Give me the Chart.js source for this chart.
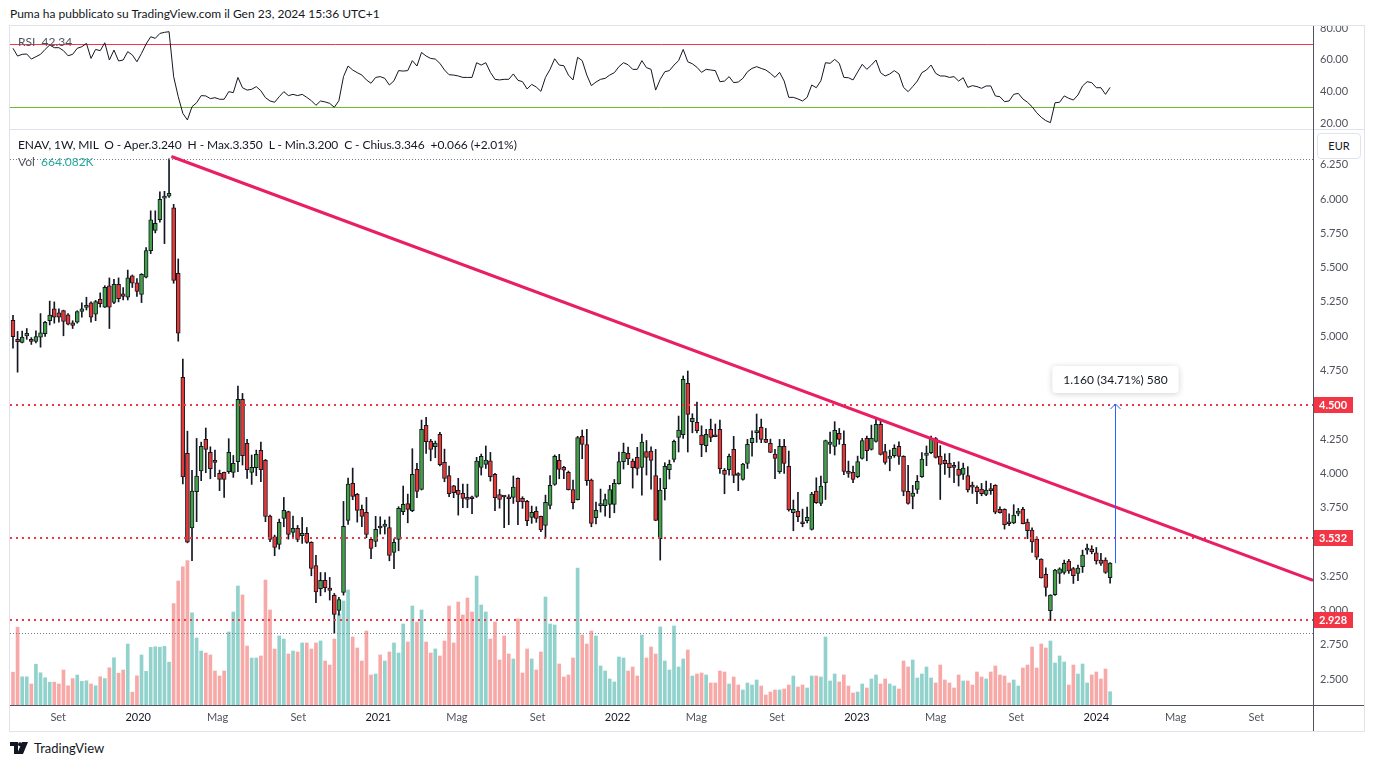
<!DOCTYPE html>
<html>
<head>
<meta charset="utf-8">
<title>ENAV 1W</title>
<script src="https://cdn.jsdelivr.net/npm/chart.js@4.4.1/dist/chart.umd.min.js"></script>
<style>
  body { margin: 0; background: #fff; font-family: Lato, 'Open Sans', sans-serif; color: #131722; }
  #page { position: relative; width: 1375px; height: 767px; overflow: hidden; }
  .abs { position: absolute; }
  #title { left: 10px; top: 6px; font-size: 12px; white-space: nowrap; }
  #frame { left: 9px; top: 25px; width: 1354px; height: 705px; border: 1px solid #e0e3eb; }
  #rsiCanvas { left: 0; top: 26px; }
  #mainCanvas { left: 0; top: 130px; }
  .hline { height: 1px; }
  .legend { font-size: 12px; white-space: nowrap; color: #131722; }
  .grey { color: #50535e; }
  #eur { left: 1317px; top: 133px; width: 42px; height: 24px; border: 1px solid #e0e3eb; border-radius: 4px;
         background: #fff; font-size: 11px; line-height: 24px; text-align: center; color: #131722; }
  #footer { left: 10px; top: 740px; font-size: 13px; display: flex; align-items: center; gap: 4px; }
</style>
</head>
<body>
<div id="page">
  <div id="title" class="abs">Puma ha pubblicato su TradingView.com il Gen 23, 2024 15:36 UTC+1</div>
  <div id="frame" class="abs"></div>
  <canvas id="rsiCanvas" class="abs" width="1375" height="103"></canvas>
  <canvas id="mainCanvas" class="abs" width="1375" height="602"></canvas>
  <div class="abs hline" style="left:10px; top:129px; width:1354px; background:#e0e3eb;"></div>
  <div class="abs hline" style="left:10px; top:705px; width:1354px; background:#50535e;"></div>
  <div class="abs" style="left:1313px; top:26px; width:1px; height:705px; background:#50535e;"></div>
  <div class="abs legend grey" style="left:18px; top:34px;">RSI&nbsp;&nbsp;<span>42.34</span></div>
  <div class="abs legend" style="left:18px; top:137px; letter-spacing:-0.08px;">ENAV, 1W, MIL&nbsp;&nbsp;O - Aper.3.240&nbsp;&nbsp;H - Max.3.350&nbsp;&nbsp;L - Min.3.200&nbsp;&nbsp;C - Chius.3.346&nbsp;&nbsp;+0.066 (+2.01%)</div>
  <div class="abs legend grey" style="left:18px; top:154px;">Vol&nbsp;&nbsp;<span style="color:#26a69a">664.082K</span></div>
  <div id="eur" class="abs">EUR</div>
  <div id="footer" class="abs">
    <svg width="20" height="12" viewBox="0 0 20 12"><path d="M0 0h8v12H4V4H0z M12 0h6l-5 12H7z" fill="#131722"/><circle cx="10" cy="2.2" r="2" fill="#131722"/></svg>
    <span>TradingView</span>
  </div>
</div>

<script>
'use strict';

// weekly candles, first week starts 2019-06-24
let firstWeek = '2019-06-24';

let opens = [
  5.115,4.977,4.954,5.003,4.977,4.962,4.993,5.019,5.113,5.199,
  5.170,5.186,5.155,5.097,5.102,5.180,5.209,5.243,5.160,5.269,
  5.212,5.368,5.246,5.378,5.308,5.284,5.441,5.389,5.305,5.430,
  5.623,5.771,5.849,6.006,6.021,5.935,5.459,4.701,4.147,3.603,
  3.866,4.019,4.248,4.153,4.090,4.000,4.007,4.012,4.007,4.085,
  4.540,4.219,4.007,4.041,4.168,4.095,3.689,3.538,3.482,3.672,
  3.721,3.570,3.599,3.546,3.563,3.497,3.329,3.159,3.220,3.164,
  3.111,3.001,3.132,3.657,3.927,3.847,3.738,3.716,3.519,3.504,
  3.608,3.614,3.606,3.424,3.519,3.721,3.781,3.728,4.029,3.883,
  4.350,4.236,4.194,4.284,4.080,3.985,3.910,3.876,3.854,3.825,
  3.820,3.832,4.044,4.066,4.092,3.993,3.845,3.833,3.820,3.825,
  3.964,3.818,3.796,3.679,3.723,3.687,3.621,3.767,3.920,4.095,
  4.044,4.007,3.883,3.808,4.270,4.211,3.951,3.677,3.764,3.764,
  3.774,3.774,3.925,4.085,4.146,4.090,4.117,4.044,4.160,4.163,
  3.985,3.524,3.888,4.027,4.102,4.262,4.282,4.656,4.377,4.372,
  4.279,4.202,4.321,4.275,4.321,4.022,4.027,4.175,3.995,3.956,
  4.073,4.224,4.297,4.335,4.248,4.219,4.141,4.012,4.197,4.051,
  3.713,3.725,3.638,3.655,3.592,3.871,3.781,3.932,4.212,4.197,
  4.292,4.212,4.007,4.007,3.976,4.109,4.255,4.175,4.233,4.357,
  4.160,4.109,4.129,4.197,4.124,3.869,3.832,3.883,3.976,4.131,
  4.151,4.253,4.126,4.095,4.075,4.054,4.032,3.993,3.985,3.905,
  3.900,3.886,3.847,3.886,3.913,3.738,3.738,3.638,3.640,3.708,
  3.738,3.645,3.587,3.521,3.376,3.264,2.999,3.116,3.271,3.278,
  3.361,3.307,3.271,3.320,3.441,3.448,3.422,3.368,3.368,3.240
];
let highs = [
  5.152,5.035,5.037,5.056,4.990,5.040,5.165,5.108,5.256,5.250,
  5.199,5.190,5.165,5.113,5.186,5.243,5.284,5.250,5.261,5.316,
  5.368,5.425,5.415,5.425,5.355,5.482,5.446,5.420,5.456,5.646,
  5.914,5.914,6.052,6.056,6.292,5.961,5.563,4.834,4.308,4.022,
  4.255,4.228,4.331,4.194,4.170,4.024,4.010,4.253,4.131,4.637,
  4.583,4.248,4.134,4.170,4.228,4.102,3.696,3.550,3.667,3.825,
  3.725,3.689,3.621,3.679,3.606,3.502,3.402,3.278,3.278,3.242,
  3.125,3.096,3.796,3.966,4.039,3.854,3.769,3.825,3.531,3.687,
  3.684,3.660,3.684,3.524,3.757,3.908,3.849,4.180,4.073,4.389,
  4.408,4.248,4.236,4.299,4.177,4.054,3.913,3.964,3.922,3.922,
  3.835,4.117,4.141,4.200,4.153,4.000,3.883,3.837,3.845,3.981,
  3.968,3.830,3.803,3.762,3.757,3.689,3.842,3.985,4.134,4.139,
  4.051,4.017,3.951,4.270,4.316,4.321,3.959,3.791,3.886,3.849,
  3.913,3.956,4.156,4.221,4.192,4.105,4.190,4.287,4.240,4.194,
  4.175,3.964,4.078,4.097,4.243,4.418,4.710,4.746,4.435,4.520,
  4.347,4.321,4.396,4.360,4.389,4.036,4.141,4.270,4.005,4.073,
  4.248,4.311,4.433,4.396,4.328,4.250,4.175,4.248,4.248,4.163,
  3.806,3.862,3.740,3.754,3.862,3.968,3.981,4.243,4.301,4.377,
  4.328,4.311,4.090,4.053,4.126,4.255,4.272,4.352,4.396,4.394,
  4.212,4.170,4.209,4.231,4.129,4.058,3.913,3.985,4.151,4.200,
  4.272,4.262,4.202,4.143,4.146,4.080,4.085,4.075,4.049,3.937,
  3.910,3.927,3.944,3.927,3.918,3.757,3.742,3.706,3.772,3.745,
  3.752,3.667,3.604,3.538,3.378,3.312,3.116,3.300,3.312,3.368,
  3.373,3.315,3.332,3.441,3.485,3.473,3.460,3.417,3.385,3.350
];
let lows = [
  4.912,4.738,4.951,4.977,4.940,4.951,4.920,4.998,5.082,5.095,
  5.102,5.003,5.082,5.056,5.095,5.139,5.191,5.102,5.113,5.212,
  5.209,5.056,5.238,5.250,5.264,5.264,5.355,5.290,5.245,5.425,
  5.602,5.753,5.831,5.675,6.011,5.386,4.964,3.923,3.494,3.364,
  3.648,3.947,4.005,3.961,3.976,3.874,3.825,4.000,3.971,4.012,
  4.061,3.964,3.920,3.983,3.939,3.648,3.502,3.400,3.448,3.611,
  3.521,3.538,3.502,3.490,3.490,3.254,3.057,3.108,3.137,3.077,
  2.834,2.967,3.113,3.628,3.808,3.645,3.611,3.531,3.378,3.466,
  3.558,3.558,3.363,3.305,3.436,3.699,3.640,3.721,3.823,3.879,
  4.146,4.092,4.114,4.054,3.939,3.830,3.823,3.696,3.750,3.750,
  3.706,3.825,3.988,4.036,3.944,3.728,3.747,3.604,3.626,3.781,
  3.626,3.745,3.619,3.636,3.643,3.575,3.529,3.742,3.913,3.961,
  3.961,3.879,3.742,3.806,4.107,3.913,3.611,3.631,3.718,3.689,
  3.677,3.713,3.922,4.032,4.063,3.893,3.988,3.842,3.988,3.886,
  3.655,3.368,3.806,3.959,4.083,4.156,4.255,4.156,4.296,4.296,
  4.122,4.156,4.231,4.267,4.000,3.852,3.988,3.932,3.874,3.951,
  4.036,4.126,4.226,4.224,4.224,4.151,3.961,4.000,4.000,3.725,
  3.582,3.648,3.611,3.640,3.587,3.781,3.764,3.810,4.146,4.134,
  4.212,3.990,3.971,3.932,3.968,4.104,4.092,4.170,4.228,4.134,
  4.068,4.019,4.117,4.066,3.837,3.776,3.742,3.854,3.971,4.056,
  4.143,4.112,3.810,3.993,3.971,3.932,3.908,3.956,3.864,3.854,
  3.779,3.837,3.837,3.847,3.706,3.711,3.594,3.619,3.633,3.691,
  3.631,3.524,3.424,3.373,3.237,3.106,2.928,3.111,3.198,3.266,
  3.271,3.198,3.218,3.278,3.412,3.414,3.339,3.329,3.271,3.200
];
let closes = [
  4.996,4.960,4.993,5.021,4.962,4.998,5.024,5.102,5.154,5.139,
  5.139,5.108,5.087,5.079,5.180,5.199,5.225,5.139,5.253,5.238,
  5.357,5.212,5.378,5.274,5.290,5.425,5.386,5.326,5.451,5.625,
  5.849,5.823,5.998,6.011,6.042,5.407,5.022,3.975,3.499,3.871,
  3.981,4.197,4.175,4.034,4.080,3.956,3.956,4.153,4.073,4.540,
  4.129,4.027,4.044,4.139,4.027,3.687,3.519,3.461,3.643,3.730,
  3.555,3.599,3.519,3.563,3.497,3.307,3.137,3.220,3.167,3.147,
  2.972,3.081,3.614,3.922,3.832,3.730,3.687,3.555,3.453,3.592,
  3.602,3.631,3.402,3.497,3.745,3.774,3.738,3.993,3.869,4.321,
  4.231,4.175,4.221,4.063,3.964,3.852,3.859,3.847,3.818,3.810,
  3.815,4.090,4.124,4.097,3.976,3.823,3.810,3.828,3.815,3.900,
  3.793,3.793,3.655,3.716,3.672,3.589,3.789,3.913,4.124,4.029,
  4.024,3.881,3.786,4.262,4.211,3.947,3.636,3.731,3.781,3.810,
  3.883,3.927,4.087,4.153,4.105,4.041,4.036,4.228,4.117,4.095,
  3.657,3.879,4.051,4.066,4.233,4.316,4.685,4.430,4.401,4.311,
  4.209,4.284,4.262,4.267,4.034,3.993,4.124,3.985,3.985,4.068,
  4.212,4.255,4.302,4.248,4.226,4.153,4.109,4.197,4.073,3.733,
  3.738,3.684,3.633,3.679,3.850,3.786,3.908,4.240,4.229,4.314,
  4.248,4.015,4.000,3.956,4.087,4.240,4.165,4.255,4.357,4.139,
  4.080,4.126,4.182,4.124,3.869,3.781,3.857,3.942,4.105,4.148,
  4.250,4.117,4.066,4.071,4.041,4.044,3.985,4.039,3.879,3.900,
  3.866,3.852,3.878,3.874,3.718,3.713,3.626,3.633,3.696,3.725,
  3.633,3.582,3.500,3.390,3.239,3.169,3.113,3.295,3.305,3.344,
  3.290,3.254,3.310,3.405,3.453,3.429,3.363,3.344,3.278,3.346
];
// volume in thousands
let volumes = [
  1640,3890,1410,1410,1050,2040,1610,1360,1140,1140,
  1050,1750,960,1320,1500,1180,1210,1050,960,1410,
  1320,1860,2360,1590,1750,3050,640,1460,2500,1680,
  2880,2910,2890,2930,2140,5070,6200,6910,7220,4610,
  3350,2700,2600,2500,1700,1450,1700,3650,4650,5950,
  5500,2950,2350,2350,2450,6250,4750,2800,3450,3300,
  2550,2700,2650,3100,3100,2800,3100,3200,2200,2000,
  3300,4550,5200,5750,3400,2850,2200,3700,1500,1550,
  2500,2200,2650,3100,2600,4050,3150,4950,4150,4750,
  3150,2600,2800,2450,3200,4950,3100,5150,4500,5350,
  4650,6450,5000,4650,3300,4150,2250,3450,2550,2300,
  4300,1600,2800,2300,1750,2650,5400,4050,4000,2050,
  1400,1500,2350,6850,3500,3050,3700,3450,1950,1700,
  1300,1150,2400,2350,1700,1900,1450,3500,2350,2900,
  2550,3900,2200,1750,3950,1900,2300,2750,1450,1550,
  1600,1500,1100,1100,1700,1650,1050,1400,1000,750,
  1100,1000,1250,950,500,650,750,750,800,1000,
  1450,900,1000,850,1450,1450,1400,3400,1200,1550,
  1150,1500,950,600,650,1050,850,1300,1500,1050,
  1300,1050,950,800,2200,1900,2250,1350,1550,1900,
  1350,1100,2000,1250,1100,850,1500,1200,1200,1000,
  1650,1400,1300,1650,1950,1500,1450,1100,1250,950,
  1850,2000,2900,1850,3050,2850,3200,2100,2450,2150,
  1000,2000,1550,2050,1100,1500,1650,1300,1800,664
];
let rsi = [
  67.3,62.4,63.5,63.7,60.5,62.0,63.5,66.6,69.4,67.7,
  67.7,65.8,62.6,63.5,67.3,68.3,70.4,60.9,66.6,65.8,
  70.8,59.9,66.2,59.3,59.9,65.2,63.1,58.8,64.1,70.0,
  74.6,73.6,76.7,77.4,77.8,49.4,36.7,26.2,22.0,30.4,
  32.9,37.4,37.2,35.5,36.1,35.1,35.1,39.9,39.3,48.9,
  42.4,40.9,41.4,43.1,40.5,36.1,34.0,33.2,36.7,39.9,
  37.4,38.2,37.4,38.2,36.3,34.2,31.3,34.0,33.4,32.5,
  30.0,34.2,49.4,56.1,53.6,51.9,50.4,47.3,45.2,48.9,
  49.4,48.3,44.1,46.8,53.2,52.9,53.2,59.5,56.1,64.7,
  62.4,60.9,60.5,57.8,53.6,50.6,50.4,49.8,48.9,48.9,
  48.9,58.2,56.7,58.2,52.1,47.7,47.3,47.7,47.7,51.1,
  47.1,46.2,41.6,44.5,42.8,40.1,48.9,54.0,60.7,56.7,
  56.3,50.4,47.3,61.6,59.5,50.4,43.7,46.0,47.7,48.3,
  50.4,51.9,55.7,58.2,56.9,54.0,54.0,59.5,55.1,54.0,
  40.9,47.7,52.5,53.2,56.7,59.5,66.6,58.8,57.5,55.3,
  52.1,54.0,53.6,53.2,46.2,46.6,49.4,45.6,46.0,48.3,
  52.5,54.6,55.7,54.6,53.6,51.5,48.9,52.1,46.6,36.3,
  36.3,35.3,34.0,36.3,44.1,42.4,46.8,58.2,57.8,60.3,
  57.8,48.9,48.7,47.3,52.3,57.2,54.0,56.7,59.9,51.9,
  49.8,51.1,53.2,51.1,42.6,39.9,43.1,46.6,51.9,53.6,
  56.7,51.5,49.8,49.8,48.9,49.4,46.6,48.7,42.6,43.7,
  43.1,42.0,43.5,43.5,37.2,36.7,33.6,34.0,38.2,38.8,
  35.3,33.2,30.4,26.6,23.7,21.6,20.3,32.9,33.2,37.2,
  35.7,34.6,37.8,43.5,46.2,45.6,42.4,42.4,38.2,42.6
];

let tickDates = ['2019-09-01','2020-01-01','2020-05-01','2020-09-01','2021-01-01','2021-05-01','2021-09-01',
  '2022-01-01','2022-05-01','2022-09-01','2023-01-01','2023-05-01','2023-09-01','2024-01-01','2024-05-01','2024-09-01'];
let tickLabels = ['Set','2020','Mag','Set','2021','Mag','Set','2022','Mag','Set','2023','Mag','Set','2024','Mag','Set'];
let priceTicks = [2.5,2.75,3,3.25,3.5,3.75,4,4.25,4.5,4.75,5,5.25,5.5,5.75,6,6.25];
let rsiTicks = [20,40,60,80];
let rsiBands = [70, 30];

// drawings on the chart
let levels = [4.5, 3.532, 2.928];
let trendFrom = [34.5, 6.31];
let trendTo = [283.2, 3.22];
let measure = { week: 240, from: 3.346, to: 4.506, text: '1.160 (34.71%) 580' };

let xMin = -0.65;
let xMax = 283.2;

const upColor = '#43a047';
const downColor = '#e53935';
const fontFamily = 'Lato, "Open Sans", sans-serif';
Chart.defaults.font.family = fontFamily;

function weekPos(d) {
  return (Date.parse(d) - Date.parse(firstWeek)) / (7 * 86400000);
}

let isUp = closes.map((c, i) => c >= opens[i]);

const rsiLevelsPlugin = {
  id: 'rsiLevels',
  beforeDatasetsDraw(chart) {
    const { ctx, chartArea: a, scales: { y } } = chart;
    ctx.save();
    ctx.lineWidth = 1;
    rsiBands.forEach((v, k) => {
      const py = Math.round(y.getPixelForValue(v)) + 0.5;
      ctx.strokeStyle = k === 0 ? '#f23645' : '#6cbd2d';
      ctx.beginPath();
      ctx.moveTo(a.left, py);
      ctx.lineTo(a.right, py);
      ctx.stroke();
    });
    ctx.restore();
  }
};

const drawingsPlugin = {
  id: 'drawings',
  afterDatasetsDraw(chart) {
    const { ctx, chartArea: a, scales: { x, y } } = chart;
    ctx.save();
    ctx.beginPath();
    ctx.rect(a.left, a.top, a.right - a.left, a.bottom - a.top);
    ctx.clip();

    // highest high / lowest low of the visible range
    ctx.strokeStyle = '#787b86';
    ctx.lineWidth = 1;
    ctx.setLineDash([1, 2]);
    [Math.max(...highs), Math.min(...lows)].forEach(v => {
      const py = Math.round(y.getPixelForValue(v)) + 0.5;
      ctx.beginPath();
      ctx.moveTo(a.left, py);
      ctx.lineTo(a.right, py);
      ctx.stroke();
    });

    // horizontal levels
    ctx.strokeStyle = '#f23645';
    ctx.lineWidth = 2;
    ctx.setLineDash([2, 4]);
    levels.forEach(v => {
      const py = Math.round(y.getPixelForValue(v));
      ctx.beginPath();
      ctx.moveTo(a.left, py);
      ctx.lineTo(a.right, py);
      ctx.stroke();
    });

    // trend line
    ctx.setLineDash([]);
    ctx.strokeStyle = '#e91e63';
    ctx.lineWidth = 3;
    ctx.beginPath();
    ctx.moveTo(x.getPixelForValue(trendFrom[0]), y.getPixelForValue(trendFrom[1]));
    ctx.lineTo(x.getPixelForValue(trendTo[0]), y.getPixelForValue(trendTo[1]));
    ctx.stroke();

    // measure arrow
    const mx = Math.round(x.getPixelForValue(measure.week)) + 0.5;
    const y0 = y.getPixelForValue(measure.from);
    const y1 = y.getPixelForValue(measure.to);
    ctx.strokeStyle = '#2962ff';
    ctx.lineWidth = 1;
    ctx.beginPath();
    ctx.moveTo(mx, y0);
    ctx.lineTo(mx, y1);
    ctx.moveTo(mx - 5, y1 + 5);
    ctx.lineTo(mx, y1);
    ctx.lineTo(mx + 5, y1 + 5);
    ctx.stroke();

    // measure label
    ctx.font = '12px ' + fontFamily;
    const tw = ctx.measureText(measure.text).width;
    const bw = tw + 22, bh = 27;
    const bx = mx - bw / 2, by = y1 - 11 - bh;
    ctx.shadowColor = 'rgba(0,0,0,0.18)';
    ctx.shadowBlur = 6;
    ctx.shadowOffsetY = 1;
    ctx.fillStyle = '#fff';
    ctx.beginPath();
    ctx.roundRect(bx, by, bw, bh, 4);
    ctx.fill();
    ctx.shadowColor = 'transparent';
    ctx.fillStyle = '#131722';
    ctx.textBaseline = 'middle';
    ctx.textAlign = 'center';
    ctx.fillText(measure.text, mx, by + bh / 2 + 0.5);
    ctx.restore();
  },
  afterDraw(chart) {
    const { ctx, chartArea: a, scales: { y } } = chart;
    ctx.save();
    ctx.font = 'bold 11px ' + fontFamily;
    ctx.textBaseline = 'middle';
    levels.forEach(v => {
      const py = Math.round(y.getPixelForValue(v));
      ctx.fillStyle = '#f23645';
      ctx.fillRect(a.right, py - 8, 40, 16);
      ctx.fillStyle = '#fff';
      ctx.fillText(v.toFixed(3), a.right + 6, py + 0.5);
    });
    ctx.restore();
  }
};

function xScale(show) {
  return {
    type: 'linear',
    min: xMin,
    max: xMax,
    display: show,
    offset: false,
    grid: { display: false, drawTicks: false },
    border: { display: false },
    afterBuildTicks: s => { s.ticks = tickDates.map(d => ({ value: weekPos(d) })); },
    afterFit: s => { s.height = show ? 27 : 0; s.paddingLeft = 0; s.paddingRight = 0; },
    ticks: {
      autoSkip: false,
      maxRotation: 0,
      padding: 6,
      font: { size: 11 },
      color: c => /^\d{4}$/.test(tickLabels[c.index]) ? '#131722' : '#50535e',
      callback: (v, i) => tickLabels[i]
    }
  };
}

function rightAxis(min, max, ticks, digits) {
  return {
    position: 'right',
    min: min,
    max: max,
    grid: { display: false, drawTicks: false },
    border: { display: false },
    afterBuildTicks: s => { s.ticks = ticks.map(v => ({ value: v })); },
    afterFit: s => { s.width = 50; s.paddingTop = 0; s.paddingBottom = 0; },
    ticks: { padding: 7, font: { size: 11 }, color: '#50535e', callback: v => v.toFixed(digits) }
  };
}

new Chart(document.getElementById('rsiCanvas'), {
  type: 'line',
  data: {
    datasets: [{
      data: rsi.map((v, i) => ({ x: i, y: v })),
      borderColor: '#131722',
      borderWidth: 1,
      pointRadius: 0,
      tension: 0
    }]
  },
  options: {
    responsive: false,
    animation: false,
    devicePixelRatio: 1,
    layout: { padding: { left: 10, right: 12, top: 0, bottom: 0 } },
    plugins: { legend: { display: false }, tooltip: { enabled: false } },
    scales: {
      x: xScale(false),
      y: rightAxis(16.3, 81.4, rsiTicks, 2)
    }
  },
  plugins: [rsiLevelsPlugin]
});

new Chart(document.getElementById('mainCanvas'), {
  type: 'bar',
  data: {
    datasets: [
      {
        label: 'Vol',
        yAxisID: 'vol',
        data: volumes.map((v, i) => ({ x: i, y: v })),
        backgroundColor: isUp.map(u => u ? 'rgba(38,166,154,0.5)' : 'rgba(239,83,80,0.5)'),
        barThickness: 3,
        grouped: false,
        order: 3
      },
      {
        label: 'Wick',
        yAxisID: 'y',
        data: highs.map((h, i) => ({ x: i, y: [lows[i], h] })),
        backgroundColor: '#131722',
        barThickness: 1,
        grouped: false,
        order: 2
      },
      {
        label: 'Body',
        yAxisID: 'y',
        data: opens.map((o, i) => ({ x: i, y: [o, closes[i]] })),
        backgroundColor: isUp.map(u => u ? upColor : downColor),
        borderColor: '#131722',
        borderWidth: 1,
        borderSkipped: false,
        minBarLength: 2,
        barThickness: 4,
        grouped: false,
        order: 1
      }
    ]
  },
  options: {
    responsive: false,
    animation: false,
    devicePixelRatio: 1,
    layout: { padding: { left: 10, right: 12, top: 0, bottom: 0 } },
    plugins: { legend: { display: false }, tooltip: { enabled: false } },
    scales: {
      x: xScale(true),
      y: rightAxis(2.312, 6.503, priceTicks, 3),
      vol: { display: false, min: 0, max: 28750 }
    }
  },
  plugins: [drawingsPlugin]
});
</script>
</body>
</html>
